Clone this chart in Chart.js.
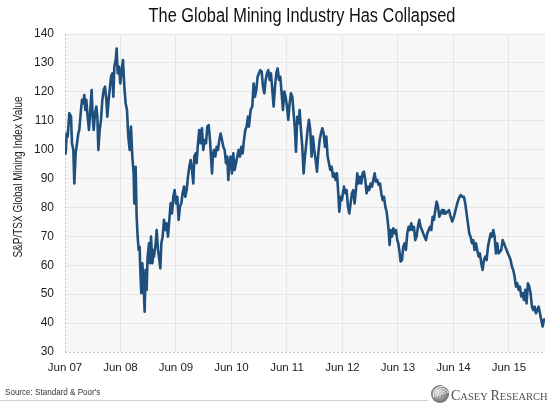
<!DOCTYPE html>
<html>
<head>
<meta charset="utf-8">
<script src="https://cdn.jsdelivr.net/npm/chart.js@4.4.1/dist/chart.umd.min.js"></script>
<style>
  html, body { margin: 0; padding: 0; background: #ffffff; }
  #wrap { width: 550px; height: 408px; position: relative; }
</style>
</head>
<body>
<div id="wrap"><canvas id="c" width="550" height="408"></canvas></div>
<script>
// ---- DATA (x = years since June 2007, y = index value) ----
const chartTitle = 'The Global Mining Industry Has Collapsed';
const yAxisTitle = 'S&P/TSX Global Mining Index Value';
const sourceText = "Source: Standard & Poor's";
const xTickLabels = ['Jun 07','Jun 08','Jun 09','Jun 10','Jun 11','Jun 12','Jun 13','Jun 14','Jun 15'];
const yMin = 30, yMax = 140, yStep = 10;
const xEnd = 8.65;

const series2007 = [[0.000,103.3],[0.012,98.7],[0.030,105.6],[0.048,104.5],[0.078,112.6],[0.108,111.4],[0.126,102.2],[0.150,99.9],[0.168,88.3],[0.192,98.7],[0.216,102.2],[0.240,105.6],[0.258,106.8],[0.288,113.7],[0.306,117.2],[0.330,116.0],[0.348,118.9],[0.366,113.7],[0.384,117.2],[0.408,111.4],[0.432,106.8],[0.456,113.7],[0.480,120.6],[0.498,111.4],[0.517,106.8],[0.541,112.6],[0.565,114.9],[0.583,111.4],[0.601,99.9],[0.625,106.8],[0.649,110.3],[0.673,117.2],[0.697,120.6],[0.721,121.8],[0.745,117.2],[0.763,111.4],[0.787,117.2],[0.811,121.8],[0.829,125.2],[0.853,126.4],[0.871,118.3],[0.889,128.7],[0.913,131.0],[0.931,135.0],[0.949,126.4],[0.973,128.7],[0.997,122.9],[1.021,127.5],[1.045,131.0],[1.069,121.8],[1.093,116.0],[1.117,113.7],[1.141,104.5],[1.165,99.9],[1.189,108.0],[1.213,97.6],[1.237,91.8],[1.249,81.4],[1.273,94.1],[1.291,76.8],[1.309,69.9],[1.327,65.3],[1.345,66.4],[1.357,58.4],[1.375,50.3],[1.393,60.7],[1.411,56.1],[1.435,43.9],[1.453,58.4],[1.471,51.5],[1.489,63.0],[1.514,67.6],[1.532,60.7],[1.550,69.9],[1.574,60.7],[1.598,65.3]];

const series2009 = [[1.604,63.0],[1.634,67.6],[1.652,72.2],[1.676,65.3],[1.700,61.8],[1.718,58.9],[1.736,67.6],[1.760,69.9],[1.784,75.7],[1.808,72.2],[1.832,74.5],[1.856,69.9],[1.880,75.7],[1.904,81.4],[1.928,77.9],[1.952,83.7],[1.976,86.0],[2.000,81.4],[2.024,83.7],[2.048,75.7],[2.072,80.3],[2.096,81.4],[2.120,84.9],[2.144,87.2],[2.168,83.7],[2.192,86.0],[2.216,90.6],[2.240,94.1],[2.264,96.4],[2.288,93.0],[2.312,88.3],[2.330,97.6],[2.354,98.7],[2.372,95.3],[2.396,102.2],[2.420,106.8],[2.444,102.2],[2.468,107.4],[2.492,99.9],[2.517,103.3],[2.541,102.2],[2.565,108.0],[2.589,108.5],[2.613,103.3],[2.631,97.6],[2.649,91.8],[2.667,98.7],[2.685,99.9],[2.709,97.6],[2.733,101.0],[2.757,99.9],[2.781,103.3],[2.805,105.6],[2.829,103.3],[2.853,101.0],[2.877,99.9],[2.901,95.3],[2.925,97.6],[2.943,89.5],[2.961,95.3],[2.985,97.6],[3.009,91.8],[3.033,98.7],[3.057,93.0],[3.081,95.3],[3.105,97.6],[3.129,99.9],[3.153,97.6],[3.177,101.0],[3.201,98.7],[3.225,103.3],[3.249,106.8],[3.273,108.0],[3.297,111.4]];

const series2010 = [[3.315,108.0],[3.345,113.7],[3.375,114.9],[3.399,122.9],[3.423,118.3],[3.447,120.6],[3.471,125.2],[3.495,126.4],[3.519,127.5],[3.544,127.0],[3.568,121.8],[3.592,119.5],[3.616,124.1],[3.640,126.4],[3.664,127.5],[3.688,124.1],[3.712,126.4],[3.736,120.6],[3.760,114.9],[3.784,121.8],[3.808,126.4],[3.832,128.1],[3.856,124.1],[3.880,125.2],[3.904,119.5],[3.928,113.7],[3.952,120.1],[3.976,118.3],[4.000,114.9],[4.024,110.3],[4.048,116.0],[4.072,119.5],[4.096,118.3],[4.120,112.6],[4.144,106.8],[4.162,99.3],[4.186,111.4],[4.210,109.1],[4.228,113.7],[4.252,106.8],[4.276,101.0],[4.300,91.8],[4.324,97.6],[4.348,102.2],[4.372,106.8],[4.396,110.3],[4.420,106.8],[4.444,97.6],[4.468,104.5],[4.492,99.9],[4.517,96.4],[4.541,92.4],[4.565,98.7],[4.589,103.3],[4.613,105.6],[4.637,107.4],[4.661,105.6],[4.685,101.0],[4.709,104.5],[4.733,97.6],[4.757,95.3],[4.781,93.0],[4.805,94.1],[4.829,90.6],[4.853,91.8],[4.877,89.5],[4.901,91.8],[4.925,84.9],[4.943,78.5],[4.967,83.7],[4.991,82.6],[5.015,86.0]];

const series2012 = [[5.027,87.2],[5.051,84.9],[5.075,86.0],[5.099,80.3],[5.123,77.9],[5.147,81.4],[5.171,84.9],[5.195,86.0],[5.219,81.4],[5.243,86.0],[5.267,91.8],[5.291,88.3],[5.315,90.6],[5.339,88.3],[5.363,91.8],[5.387,92.4],[5.411,89.5],[5.435,84.9],[5.459,87.2],[5.483,86.0],[5.508,88.3],[5.532,87.2],[5.556,89.5],[5.580,91.8],[5.604,88.9],[5.628,89.5],[5.652,87.8],[5.676,88.3],[5.700,84.9],[5.724,82.6],[5.748,83.7],[5.772,80.3],[5.796,78.5],[5.820,74.5],[5.832,72.2],[5.850,67.0],[5.868,72.2],[5.892,69.9],[5.916,72.8],[5.940,71.0],[5.964,72.2],[5.988,68.7],[6.006,67.6],[6.024,65.3],[6.048,61.3],[6.072,61.8],[6.096,66.4],[6.120,67.6],[6.144,65.3],[6.168,71.0],[6.192,73.3],[6.216,72.2],[6.240,74.5],[6.264,72.2],[6.288,73.3],[6.312,68.7],[6.336,69.9],[6.360,73.3],[6.384,75.7],[6.408,73.3],[6.432,72.2],[6.456,71.0],[6.480,69.9],[6.505,68.7],[6.529,71.0],[6.553,72.2],[6.577,73.3],[6.601,72.2],[6.625,76.8],[6.649,75.7],[6.673,79.1],[6.697,82.0],[6.721,80.3],[6.745,76.8],[6.769,77.9],[6.793,79.1],[6.817,77.9]];

const series2014 = [[6.829,79.1],[6.859,77.9],[6.889,78.5],[6.919,79.1],[6.949,76.8],[6.979,75.1],[7.009,76.8],[7.039,79.1],[7.069,81.4],[7.099,83.2],[7.129,84.3],[7.159,83.7],[7.189,83.7],[7.213,81.4],[7.237,77.9],[7.261,74.5],[7.285,71.0],[7.309,69.9],[7.333,67.6],[7.357,68.7],[7.381,65.3],[7.405,67.6],[7.429,65.3],[7.453,63.0],[7.477,64.1],[7.501,60.7],[7.526,58.4],[7.550,61.8],[7.574,63.0],[7.598,61.8],[7.622,66.4],[7.646,68.7],[7.670,71.0],[7.694,69.9],[7.718,72.2],[7.742,69.9],[7.766,64.1],[7.790,67.6],[7.814,64.1],[7.838,64.7],[7.862,65.3],[7.886,68.7],[7.910,67.6],[7.934,66.4],[7.958,65.3],[7.982,64.1],[8.006,63.0],[8.030,61.8],[8.054,59.5],[8.078,58.4],[8.102,56.1],[8.126,52.6],[8.150,53.8],[8.174,51.5],[8.198,52.6],[8.222,49.2],[8.246,50.3],[8.270,48.0],[8.294,51.5],[8.318,46.8],[8.342,53.8],[8.366,52.6],[8.390,50.3],[8.415,45.7],[8.439,44.5],[8.463,45.7],[8.487,43.4],[8.511,44.5],[8.535,45.7],[8.559,43.4],[8.583,41.1],[8.607,38.8],[8.631,41.1],[8.649,41.6]];

// ---- CHART ----
const SANS = "'Liberation Sans',Arial,sans-serif";
const SERIF = "'Liberation Serif','DejaVu Serif',serif";
const points = [].concat(series2007, series2009, series2010, series2012, series2014)
  .map(p => ({ x: p[0], y: p[1] }));

// draw text horizontally condensed (narrow-font look)
function narrowText(ctx, text, x, y, sizePx, squeeze, align) {
  ctx.save();
  ctx.font = sizePx + 'px ' + SANS;
  ctx.textAlign = align || 'left';
  ctx.translate(x, y);
  ctx.scale(squeeze, 1);
  ctx.fillText(text, 0, 0);
  ctx.restore();
}

const plotBg = {
  id: 'plotBg',
  beforeDraw(chart) {
    const { ctx, chartArea: a } = chart;
    ctx.save();
    ctx.fillStyle = '#ffffff';
    ctx.fillRect(0, 0, chart.width, chart.height);
    ctx.fillStyle = '#f7f7f7';
    ctx.fillRect(a.left, a.top, a.right - a.left, a.bottom - a.top);
    ctx.restore();
  },
  beforeDatasetsDraw(chart) {
    const { ctx, chartArea: a } = chart;
    ctx.save();
    ctx.strokeStyle = '#c4c4c4';
    ctx.lineWidth = 1;
    ctx.setLineDash([2, 2]);
    ctx.beginPath();
    ctx.moveTo(a.left + 0.5, a.top);
    ctx.lineTo(a.left + 0.5, a.bottom);
    ctx.moveTo(a.left, a.bottom + 0.5);
    ctx.lineTo(a.right, a.bottom + 0.5);
    ctx.stroke();
    ctx.restore();
  }
};

const decorations = {
  id: 'decorations',
  afterDraw(chart) {
    const { ctx } = chart;
    ctx.save();
    ctx.textBaseline = 'middle';
    // title
    ctx.fillStyle = '#111';
    narrowText(ctx, chartTitle, 302, 17, 19.5, 0.84, 'center');
    // y axis title
    ctx.save();
    ctx.translate(18, 177);
    ctx.rotate(-Math.PI / 2);
    ctx.fillStyle = '#222';
    narrowText(ctx, yAxisTitle, 0, 0, 13, 0.77, 'center');
    ctx.restore();
    // source
    ctx.textBaseline = 'alphabetic';
    ctx.fillStyle = '#333';
    narrowText(ctx, sourceText, 5, 395, 9.5, 0.85, 'left');
    // separator line
    ctx.strokeStyle = '#cfcfcf';
    ctx.lineWidth = 1;
    ctx.beginPath();
    ctx.moveTo(0, 400.5);
    ctx.lineTo(428, 400.5);
    ctx.stroke();
    // logo icon
    const cx = 440, cy = 394, r = 9;
    const g = ctx.createRadialGradient(cx - 3, cy - 3, 1, cx, cy, r);
    g.addColorStop(0, '#d8d8d8');
    g.addColorStop(1, '#6e6e6e');
    ctx.fillStyle = g;
    ctx.beginPath();
    ctx.arc(cx, cy, r, 0, Math.PI * 2);
    ctx.fill();
    ctx.strokeStyle = '#f4f4f4';
    ctx.lineWidth = 1;
    for (let k = 0; k < 4; k++) {
      ctx.beginPath();
      ctx.arc(cx + 2, cy + 1, 2 + k * 2.2, Math.PI * 0.9, Math.PI * 1.9);
      ctx.stroke();
    }
    // logo text (small caps)
    ctx.fillStyle = '#505050';
    ctx.textAlign = 'left';
    let x = 451;
    const parts = [['C', 14], ['ASEY ', 10.5], ['R', 14], ['ESEARCH', 10.5]];
    parts.forEach(([t, s]) => {
      ctx.font = s + 'px ' + SERIF;
      ctx.fillText(t, x, 400);
      x += ctx.measureText(t).width;
    });
    ctx.restore();
  }
};

new Chart(document.getElementById('c'), {
  type: 'line',
  data: {
    datasets: [{
      data: points,
      borderColor: '#1f4f7c',
      borderWidth: 2.6,
      pointRadius: 0,
      tension: 0,
      borderJoinStyle: 'round'
    }]
  },
  options: {
    responsive: false,
    animation: false,
    events: [],
    layout: { padding: { left: 0, right: 5, top: 34, bottom: 0 } },
    plugins: { legend: { display: false }, tooltip: { enabled: false }, title: { display: false } },
    scales: {
      x: {
        type: 'linear',
        min: 0,
        max: xEnd,
        afterBuildTicks: (scale) => { scale.ticks = xTickLabels.map((_, i) => ({ value: i })); },
        afterFit: (scale) => { scale.height = 56; },
        ticks: {
          autoSkip: false,
          maxRotation: 0,
          padding: 9,
          color: '#222',
          font: { family: SANS, size: 11.5 },
          callback: (v) => xTickLabels[v] !== undefined ? xTickLabels[v] : ''
        },
        grid: {
          drawTicks: false,
          color: (c) => (c.tick && c.tick.value === 0) ? 'rgba(0,0,0,0)' : '#e6e6e6',
          lineWidth: 1
        },
        border: { display: false }
      },
      y: {
        min: yMin,
        max: yMax,
        afterFit: (scale) => { scale.width = 65; },
        ticks: {
          stepSize: yStep,
          padding: 11,
          color: '#222',
          font: { family: SANS, size: 12 }
        },
        grid: {
          drawTicks: false,
          color: (c) => (c.tick && c.tick.value === yMin) ? 'rgba(0,0,0,0)' : '#e6e6e6',
          lineWidth: 1
        },
        border: { display: false }
      }
    }
  },
  plugins: [plotBg, decorations]
});
</script>
</body>
</html>
